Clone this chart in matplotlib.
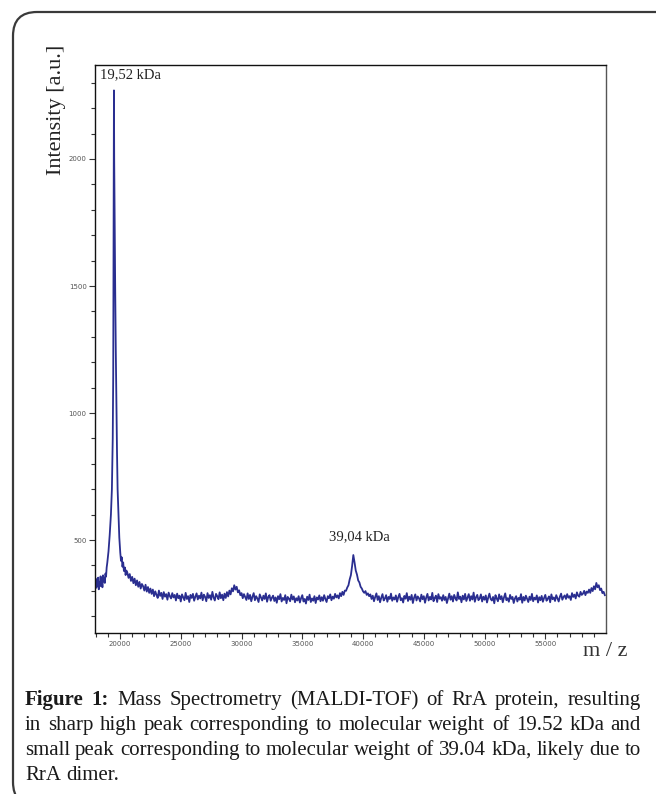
import numpy as np
import matplotlib

matplotlib.use("Agg")
import matplotlib.pyplot as plt
from matplotlib.patches import FancyBboxPatch
from matplotlib.ticker import MultipleLocator

W, H = 656, 794

# --- spectrum -----------------------------------------------------------
# noisy baseline left of the main peak (50 Da steps from 17950)
left_start, left_step = 17950, 50
left_int = [325, 348, 312, 339, 321, 352, 306, 334, 318, 357,
            329, 345, 314, 361, 337, 352, 331, 368, 356, 392]

# main peak (19,52 kDa)
peak_mz = [18950, 19050, 19150, 19250, 19330, 19400, 19440, 19470, 19500,
           19520, 19550, 19600, 19650, 19700, 19750, 19800, 19870, 19940,
           20020, 20080, 20140, 20200, 20260, 20320, 20400, 20460, 20520]
peak_int = [410, 455, 520, 600, 700, 900, 1150, 1650, 2270,
            2000, 1800, 1500, 1250, 1050, 850, 700, 600, 510,
            450, 418, 432, 395, 412, 378, 392, 362, 380]

# baseline + dimer peak, 100 Da steps from 20600 (one row = 2000 Da)
right_start, right_step = 20600, 100
right_int = [
    372, 351, 366, 339, 355, 330, 348, 322, 341, 316, 335, 309, 327, 318, 301, 324, 297, 315, 292, 309,
    288, 305, 279, 298, 284, 272, 301, 280, 292, 268, 295, 277, 287, 265, 293, 279, 270, 291, 274, 284,
    262, 289, 271, 281, 258, 286, 274, 263, 292, 268, 279, 256, 284, 272, 288, 261, 277, 290, 266, 281,
    270, 293, 263, 285, 276, 259, 291, 272, 283, 265, 296, 274, 262, 288, 279, 267, 294, 271, 285, 263,
    289, 272, 295, 278, 301, 286, 310, 298, 322, 305, 316, 294, 302, 283, 291, 271, 287, 276, 264, 290,
    268, 284, 259, 277, 291, 263, 279, 270, 256, 286, 274, 262, 281, 268, 290, 257, 276, 283, 261, 273,
    281, 260, 274, 253, 279, 267, 287, 258, 272, 264, 283, 251, 276, 269, 259, 285, 266, 278, 255, 271,
    262, 279, 254, 271, 283, 258, 268, 250, 277, 264, 285, 256, 270, 261, 279, 252, 274, 266, 282, 259,
    275, 261, 283, 268, 256, 279, 271, 286, 263, 277, 269, 288, 274, 282, 270, 291, 279, 296, 284, 301,
    300, 313, 322, 345, 362, 398, 441, 412, 380, 364, 341, 333, 316, 309, 298, 292, 299, 284, 290, 279,
    286, 268, 281, 259, 276, 290, 264, 279, 255, 273, 287, 262, 270, 283, 257, 276, 268, 289, 261, 274,
    266, 282, 257, 275, 288, 263, 271, 254, 280, 269, 291, 260, 277, 265, 284, 252, 273, 286, 262, 278,
    271, 258, 285, 267, 279, 253, 274, 288, 262, 276, 266, 292, 259, 272, 281, 256, 287, 269, 275, 261,
    283, 264, 276, 252, 270, 289, 265, 279, 258, 284, 271, 262, 294, 268, 277, 255, 281, 266, 288, 260,
    274, 287, 261, 279, 266, 293, 257, 275, 284, 263, 270, 286, 258, 277, 265, 282, 254, 273, 289, 268,
    262, 276, 251, 283, 270, 259, 286, 267, 279, 255, 274, 290, 263, 271, 257, 284, 268, 276, 252, 270,
    279, 258, 272, 265, 287, 253, 276, 262, 281, 269, 256, 277, 264, 288, 259, 273, 266, 282, 254, 275,
    263, 280, 257, 272, 284, 261, 269, 278, 255, 286, 267, 274, 260, 283, 270, 258, 277, 289, 265, 276,
    282, 268, 287, 273, 279, 264, 291, 276, 285, 270, 294, 281, 277, 296, 284, 289, 300, 283, 297, 292,
    305, 292, 311, 299, 318, 306, 331, 314, 322, 303, 309, 291, 296, 283,
]

peak_labels = ["19,52 kDa", "39,04 kDa"]
label_mz = [18350, 39730]
label_int = [2330, 512]

caption = [
    [("Figure", True), ("1:", True), "Mass", "Spectrometry", "(MALDI-TOF)",
     "of", "RrA", "protein,", "resulting"],
    "in sharp high peak corresponding to molecular weight of 19.52 kDa and".split(),
    "small peak corresponding to molecular weight of 39.04 kDa, likely due to".split(),
    "RrA dimer.".split(),
]

LINE = "#2a2e90"
SERIF = "Liberation Serif"

left_mz = left_start + left_step * np.arange(len(left_int))
right_mz = right_start + right_step * np.arange(len(right_int))
mz = np.concatenate([left_mz, peak_mz, right_mz])
inten = np.concatenate([left_int, peak_int, right_int])

fig = plt.figure(figsize=(W / 100, H / 100), dpi=100, facecolor="white")
ax = fig.add_axes([95 / W, 1 - 633 / H, (606 - 95) / W, (633 - 65) / H])
ax.plot(mz, inten, color=LINE, lw=1.3)
ax.set_xlim(17940, 59995)
ax.set_ylim(134, 2370)

ax.xaxis.set_major_locator(MultipleLocator(5000))
ax.xaxis.set_minor_locator(MultipleLocator(1000))
ax.yaxis.set_major_locator(MultipleLocator(500))
ax.yaxis.set_minor_locator(MultipleLocator(100))
ax.tick_params(which="both", direction="out", color="#333333", width=0.8,
               labelsize=5, labelcolor="#555555", pad=2)
ax.tick_params(which="major", length=4)
ax.tick_params(which="minor", length=3)
for s in ax.spines.values():
    s.set_linewidth(1.0)
    s.set_color("#111111")
ax.spines["right"].set_color("#555555")

for s, x, y in zip(peak_labels, label_mz, label_int):
    ax.text(x, y, s, family=SERIF, fontsize=10.5, color="#222222",
            ha="left" if x < 30000 else "center", va="center")

fig.text(56 / W, 1 - 110 / H, "Intensity [a.u.]", family=SERIF, fontsize=16,
         rotation=90, ha="center", va="center", color="#222222")
fig.text(605 / W, 1 - 651 / H, "m / z", family=SERIF, fontsize=16,
         ha="center", va="center", color="#333333")

# rounded frame, cut off at right and bottom
frame = FancyBboxPatch((13, -12), 720, 794,
                       boxstyle="round,pad=0,rounding_size=24",
                       transform=None, fill=False, lw=1.6, ec="#3a3a3a",
                       clip_on=False)
fig.add_artist(frame)

# justified caption
FS = 15
renderer = fig.canvas.get_renderer()
x_left, x_right = 25, 641
baselines = [705, 730, 755, 780]
for i, (words, yb) in enumerate(zip(caption, baselines)):
    texts = []
    for w in words:
        bold = False
        if isinstance(w, tuple):
            w, bold = w
        t = fig.text(0, 1 - yb / H, w, family=SERIF, fontsize=FS,
                     weight="bold" if bold else "normal", color="#1a1a1a",
                     ha="left", va="baseline")
        texts.append(t)
    widths = [t.get_window_extent(renderer).width for t in texts]
    if i == len(caption) - 1:
        gap = FS * 0.25 * 100 / 72
    else:
        gap = (x_right - x_left - sum(widths)) / (len(texts) - 1)
    x = x_left
    for t, w in zip(texts, widths):
        t.set_x(x / W)
        x += w + gap

fig.savefig("out.png", dpi=100, facecolor="white")
